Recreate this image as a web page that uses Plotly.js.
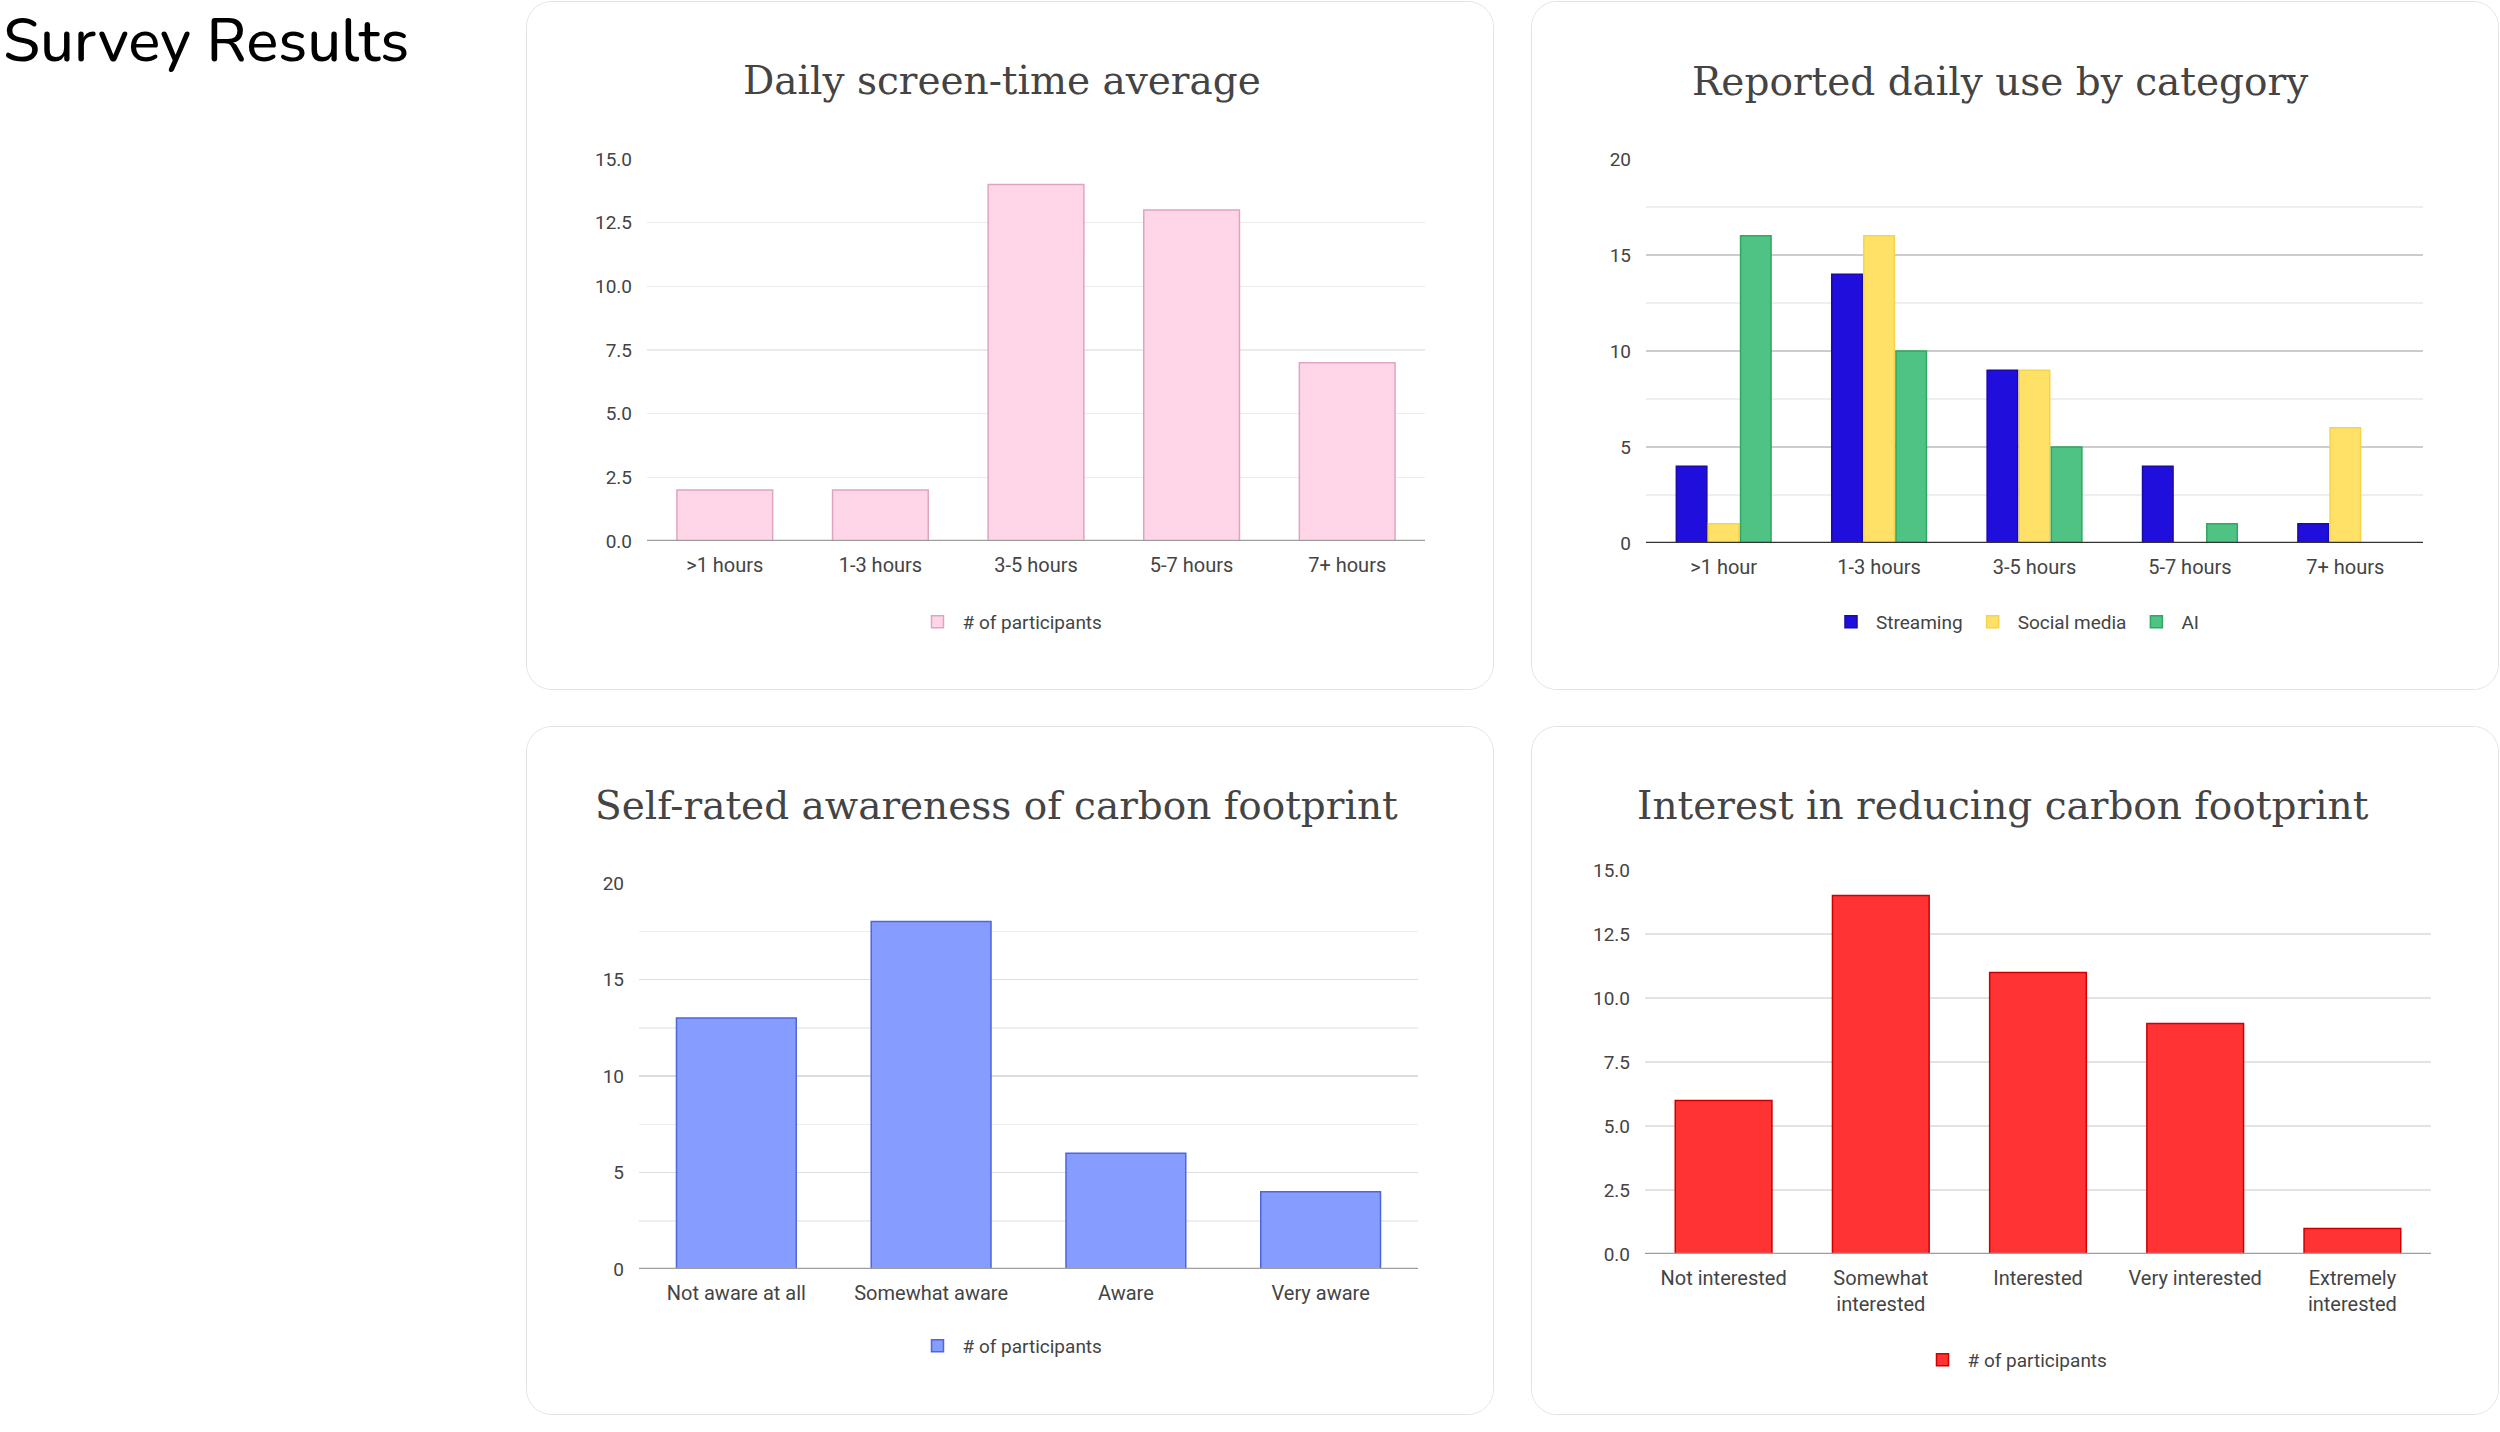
<!DOCTYPE html>
<html>
<head>
<meta charset="utf-8">
<script src="https://cdn.plot.ly/plotly-3.0.1.min.js"></script>
<style>
  html, body { margin: 0; padding: 0; background: #ffffff; width: 2500px; height: 1432px; overflow: hidden; }
  #pageTitle { position: absolute; left: 3px; top: 11px; margin: 0; line-height: 1.0; font-family: "Nunito", "Lato", "Open Sans", sans-serif; font-weight: 500; font-size: 60px; color: #000; }
  .panel { position: absolute; width: 966px; height: 687px; border: 1.5px solid #e2e2e2; border-radius: 26px; overflow: hidden; background: #fff; }
  .chart { width: 966px; height: 687px; }
</style>
</head>
<body>
<h1 id="pageTitle">Survey Results</h1>
<div class="panel" style="left:526px; top:1px;"><div id="c1" class="chart"></div></div>
<div class="panel" style="left:1531px; top:1px;"><div id="c2" class="chart"></div></div>
<div class="panel" style="left:526px; top:726px;"><div id="c3" class="chart"></div></div>
<div class="panel" style="left:1531px; top:726px;"><div id="c4" class="chart"></div></div>
<script>
// ---- Data ----
const screenCategories = [">1 hours", "1-3 hours", "3-5 hours", "5-7 hours", "7+ hours"];
const screenParticipants = [2, 2, 14, 13, 7];

const useCategories = [">1 hour", "1-3 hours", "3-5 hours", "5-7 hours", "7+ hours"];
const streaming = [4, 14, 9, 4, 1];
const socialMedia = [1, 16, 9, 0, 6];
const ai = [16, 10, 5, 1, 0];

const awarenessCategories = ["Not aware at all", "Somewhat aware", "Aware", "Very aware"];
const awarenessParticipants = [13, 18, 6, 4];

const interestCategories = ["Not interested", "Somewhat<br>interested", "Interested", "Very interested", "Extremely<br>interested"];
const interestParticipants = [6, 14, 11, 9, 1];

const chartTitles = ["Daily screen-time average", "Reported daily use by category",
                     "Self-rated awareness of carbon footprint", "Interest in reducing carbon footprint"];

// ---- Styling helpers ----
const W = 966, H = 687;
const tickFont = {family: "Roboto, Arial, sans-serif", size: 19, color: "#444"};
const xTickFont = {family: "Roboto, Arial, sans-serif", size: 20, color: "#444"};
const titleFont = {family: "DejaVu Serif, serif", size: 39, color: "#444"};

function makeLayout(opts) {
  const plotW = W - opts.l - opts.r;
  const plotH = H - opts.t - opts.b;
  const legX = (483 - opts.l) / plotW;
  const legY = (H - opts.b - opts.legPix) / plotH;
  const titleX = (opts.titleCx - opts.l) / plotW;
  const titleY = (H - opts.b - 79) / plotH;
  const yaxis = {
    range: opts.yrange, dtick: opts.dtick, tick0: 0, tickformat: opts.fmt,
    showgrid: true, gridcolor: opts.gridcolor, gridwidth: 1.5,
    zeroline: false, showline: false, ticks: "", fixedrange: true,
    tickfont: tickFont, ticklabelstandoff: 14
  };
  if (opts.minor) {
    yaxis.minor = {dtick: opts.minor, showgrid: true, gridcolor: "#eeeeee", gridwidth: 1.5};
  }
  return {
    width: W, height: H,
    margin: {l: opts.l, r: opts.r, t: opts.t, b: opts.b, pad: 0},
    paper_bgcolor: "#ffffff", plot_bgcolor: "#ffffff",
    bargap: opts.bargap, bargroupgap: opts.groupgap || 0,
    showlegend: true,
    legend: {orientation: "h", x: legX, y: legY, xanchor: "center", yanchor: "middle",
             font: tickFont, itemwidth: 40, traceorder: "normal"},
    xaxis: {type: "category", showgrid: false, zeroline: false, showline: false, ticks: "",
            tickfont: xTickFont, fixedrange: true, ticklabelstandoff: 10},
    yaxis: yaxis,
    shapes: [{type: "line", xref: "paper", yref: "y", x0: 0, x1: 1, y0: 0, y1: 0,
              line: {color: opts.baseColor, width: 2.5}}],
    annotations: [{text: opts.title, xref: "paper", yref: "paper", x: titleX, y: titleY,
                   xanchor: "center", yanchor: "middle", showarrow: false, font: titleFont}]
  };
}

const cfg = {displayModeBar: false, staticPlot: true};

// Chart 1
Plotly.newPlot("c1", [{
  type: "bar", x: screenCategories, y: screenParticipants, name: "# of participants",
  marker: {color: "#ffd6e7", line: {color: "#e2a3bf", width: 1.5}}
}], makeLayout({l: 120, r: 68, t: 157, b: 148, yrange: [0, 15], dtick: 2.5, fmt: ".1f",
  gridcolor: "#ebebeb", bargap: 0.385, baseColor: "#9e9e9e", legPix: 620, titleCx: 475,
  title: chartTitles[0]}), cfg);

// Chart 2
Plotly.newPlot("c2", [
  {type: "bar", x: useCategories, y: streaming, name: "Streaming",
   marker: {color: "#200fdc", line: {color: "#1a0aa8", width: 1.5}}},
  {type: "bar", x: useCategories, y: socialMedia, name: "Social media",
   marker: {color: "#ffe168", line: {color: "#f7d34a", width: 1.5}}},
  {type: "bar", x: useCategories, y: ai, name: "AI",
   marker: {color: "#4fc384", line: {color: "#2ea862", width: 1.5}}}
], makeLayout({l: 114, r: 75, t: 157, b: 146, yrange: [0, 20], dtick: 5, fmt: "d",
  minor: 2.5, gridcolor: "#cccccc", bargap: 0.38, groupgap: 0.05, baseColor: "#333333",
  legPix: 620, titleCx: 468, title: chartTitles[1]}), cfg);

// Chart 3
Plotly.newPlot("c3", [{
  type: "bar", x: awarenessCategories, y: awarenessParticipants, name: "# of participants",
  marker: {color: "#869cff", line: {color: "#4d66dd", width: 1.5}}
}], makeLayout({l: 112, r: 75, t: 156, b: 145, yrange: [0, 20], dtick: 5, fmt: "d",
  minor: 2.5, gridcolor: "#dddddd", bargap: 0.385, baseColor: "#9e9e9e", legPix: 619,
  titleCx: 469, title: chartTitles[2]}), cfg);

// Chart 4
Plotly.newPlot("c4", [{
  type: "bar", x: interestCategories, y: interestParticipants, name: "# of participants",
  marker: {color: "#ff3333", line: {color: "#cc0000", width: 1.5}}
}], makeLayout({l: 113, r: 67, t: 143, b: 160, yrange: [0, 15], dtick: 2.5, fmt: ".1f",
  gridcolor: "#e3e3e3", bargap: 0.385, baseColor: "#9e9e9e", legPix: 633, titleCx: 471,
  title: chartTitles[3]}), cfg);
</script>
</body>
</html>
